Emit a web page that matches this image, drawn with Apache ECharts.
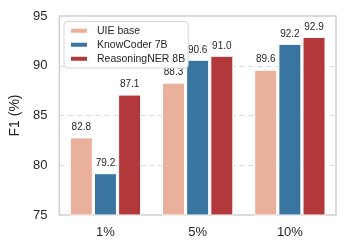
<!DOCTYPE html>
<html><head><meta charset="utf-8">
<script src="https://cdn.jsdelivr.net/npm/echarts@6/dist/echarts.min.js"></script>
<style>html,body{margin:0;padding:0;background:#fff}#c{width:347px;height:251px}</style>
</head><body><div id="c"></div>
<script>
const categories = ['1%', '5%', '10%'];
const seriesNames = ['UIE base', 'KnowCoder 7B', 'ReasoningNER 8B'];
const uieBase = [82.8, 88.3, 89.6];
const knowCoder = [79.2, 90.6, 92.2];
const reasoningNER = [87.1, 91.0, 92.9];
const yTicks = [75, 80, 85, 90, 95];
const colors = ['#E9B09B', '#3A75A1', '#B2383B'];
const FONT = '"Liberation Sans", Arial, sans-serif';

const chart = echarts.init(document.getElementById('c'), null, {renderer: 'canvas'});
const values = [uieBase, knowCoder, reasoningNER];
chart.setOption({
  animation: false,
  grid: {left: 59, right: 11, top: 16, bottom: 36, show: true, borderColor: '#cfcfcf', borderWidth: 1.5, backgroundColor: '#fff'},
  legend: {
    orient: 'vertical', left: 64, top: 21.5,
    data: seriesNames,
    itemWidth: 18, itemHeight: 6, itemGap: 1.5,
    backgroundColor: '#fff', borderColor: '#d6d6d6', borderWidth: 1, borderRadius: 3,
    padding: [3, 3, 3, 5],
    icon: 'rect',
    textStyle: {fontFamily: FONT, fontSize: 10.5, color: '#262626', lineHeight: 12.5, padding: [0, 0, 0, 4]}
  },
  xAxis: {
    type: 'category', data: categories,
    axisLine: {show: false}, axisTick: {show: false},
    axisLabel: {fontFamily: FONT, fontSize: 13, color: '#262626', margin: 11}
  },
  yAxis: {
    type: 'value', min: yTicks[0], max: yTicks[yTicks.length - 1], interval: 5,
    name: 'F1 (%)', nameLocation: 'middle', nameGap: 26,
    nameTextStyle: {fontFamily: FONT, fontSize: 14, color: '#262626'},
    axisLine: {show: false}, axisTick: {show: false},
    axisLabel: {fontFamily: FONT, fontSize: 13, color: '#262626', margin: 12},
    splitLine: {show: true, lineStyle: {color: '#dcdcdc', type: [5, 4], width: 1}}
  },
  series: seriesNames.map((n, i) => ({
    name: n, type: 'bar', data: values[i],
    barWidth: 23, barGap: '5%',
    itemStyle: {color: colors[i], borderColor: '#fff', borderWidth: 1},
    label: {show: true, position: 'top', distance: 5, fontFamily: FONT, fontSize: 10, color: '#262626',
      formatter: p => p.value.toFixed(1)}
  }))
});
</script></body></html>
